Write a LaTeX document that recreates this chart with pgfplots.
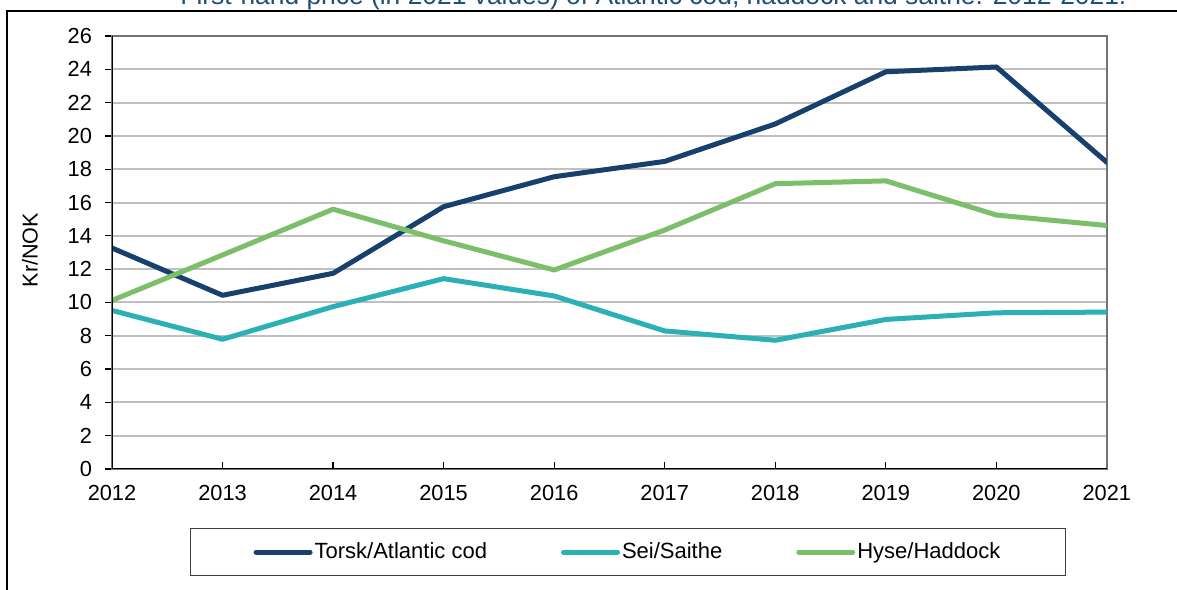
\documentclass[border=0pt]{standalone}
\usepackage{fontspec}
\setmainfont{Liberation Sans}
\usepackage{pgfplots}
\pgfplotsset{compat=1.18}
\definecolor{torsk}{HTML}{17406D}
\definecolor{sei}{HTML}{2BB0B5}
\definecolor{hyse}{HTML}{7BBF6A}
\definecolor{gridc}{HTML}{BFBFBF}
\definecolor{titlec}{HTML}{1F4E79}
\begin{document}
\begin{tikzpicture}[x=1pt,y=1pt]
\useasboundingbox (0,0) rectangle (588.5,294.5);
% outer frame
\draw[black, line width=1.1pt] (3.5,-2) -- (3.5,289) -- (600,289);
\node[anchor=base west, inner sep=0pt, text=titlec, font=\fontsize{13.2}{15}\selectfont] at (90,292) {First-hand price (in 2021 values) of Atlantic cod, haddock and saithe. 2012-2021.};
\node[rotate=90, font=\fontsize{10.8}{12}\selectfont] at (15,169.5) {Kr/NOK};
\begin{axis}[
  at={(56pt,60pt)}, anchor=south west,
  scale only axis, width=497.5pt, height=216.5pt,
  xmin=2012, xmax=2021, ymin=0, ymax=26,
  xtick={2012,...,2021}, ytick={0,2,...,26},
  /pgf/number format/1000 sep={},
  /pgf/number format/assume math mode=true,
  ticklabel style={font=\fontsize{10.9}{12}\selectfont},
  xtick pos=bottom, ytick pos=left,
  tick align=outside, major tick length=3.5pt,
  x tick style={black, line width=0.6pt, yshift=3.5pt},
  y tick style={black, line width=0.6pt},
  yticklabel style={xshift=-3pt},
  xticklabel style={yshift=-1pt},
  ymajorgrids, major grid style={gridc, line width=1pt},
  axis line style={draw=gray!90!black, line width=0.8pt},
  legend columns=3,
  legend style={at={(0.5186,-0.1917)}, anchor=center, draw=black!75, line width=0.6pt,
    font=\fontsize{11}{12.5}\selectfont, inner xsep=31.5pt, inner ysep=5pt,
    /tikz/every even column/.append style={column sep=36pt},
    nodes={inner xsep=1pt}},
  legend image code/.code={\draw[#1, line width=2.5pt, line cap=round] (0pt,0pt) -- (27pt,0pt);},
  every axis plot/.append style={line width=2.5pt, line join=round, line cap=round},
]
\addplot[torsk] coordinates {(2012,13.27) (2013,10.43) (2014,11.75) (2015,15.75) (2016,17.55) (2017,18.47) (2018,20.72) (2019,23.85) (2020,24.14) (2021,18.41)};
\addlegendentry{Torsk/Atlantic cod}
\addplot[sei] coordinates {(2012,9.52) (2013,7.79) (2014,9.75) (2015,11.43) (2016,10.39) (2017,8.29) (2018,7.73) (2019,8.98) (2020,9.38) (2021,9.42)};
\addlegendentry{Sei/Saithe}
\addplot[hyse] coordinates {(2012,10.12) (2013,12.85) (2014,15.60) (2015,13.70) (2016,11.95) (2017,14.35) (2018,17.13) (2019,17.30) (2020,15.25) (2021,14.62)};
\addlegendentry{Hyse/Haddock}
\draw[black, line width=0.8pt] (rel axis cs:0,1) -- (rel axis cs:0,0) -- (rel axis cs:1,0);
\end{axis}
\end{tikzpicture}
\end{document}
